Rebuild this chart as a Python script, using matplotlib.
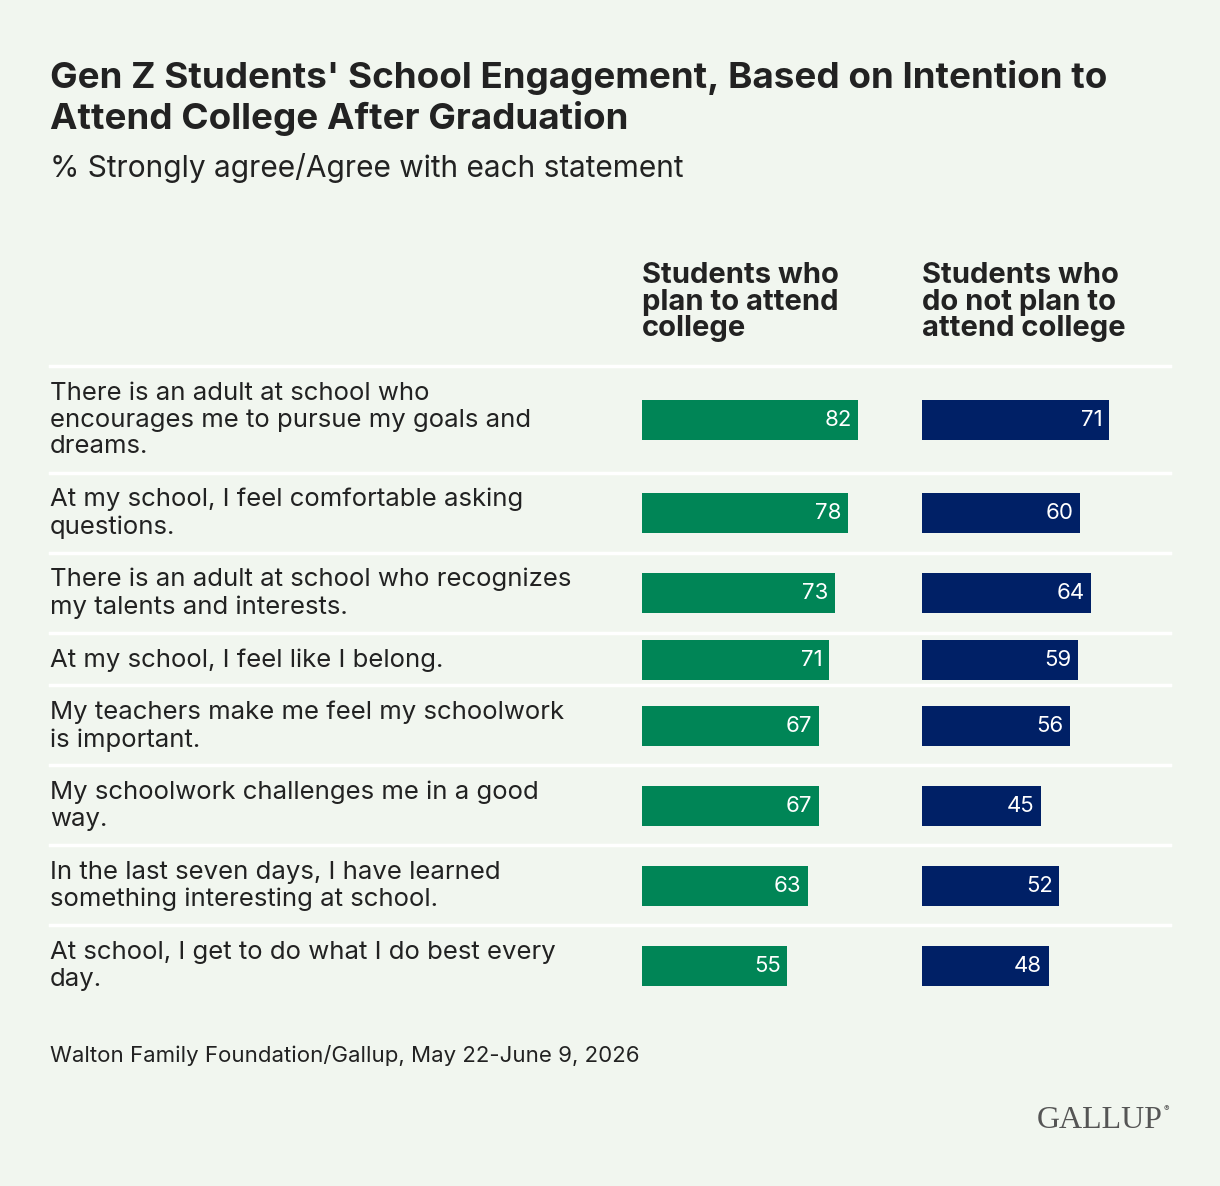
import matplotlib.pyplot as plt
from matplotlib.lines import Line2D

statements = [
    "There is an adult at school who\nencourages me to pursue my goals and\ndreams.",
    "At my school, I feel comfortable asking\nquestions.",
    "There is an adult at school who recognizes\nmy talents and interests.",
    "At my school, I feel like I belong.",
    "My teachers make me feel my schoolwork\nis important.",
    "My schoolwork challenges me in a good\nway.",
    "In the last seven days, I have learned\nsomething interesting at school.",
    "At school, I get to do what I do best every\nday.",
]
plan_college = [82, 78, 73, 71, 67, 67, 63, 55]
no_college = [71, 60, 64, 59, 56, 45, 52, 48]
headers = ["Students who\nplan to attend\ncollege", "Students who\ndo not plan to\nattend college"]

W, H = 1220, 1186
BG = "#f1f6ef"
GREEN = "#008556"
NAVY = "#002066"
TXT = "#222222"
row_y = [420, 513, 593, 660, 726, 806, 886, 966]
seps = [366, 473, 553, 633, 685, 765, 845, 925]
plt.rcParams["font.family"] = ["Inter", "DejaVu Sans"]

fig = plt.figure(figsize=(W / 100, H / 100), dpi=100, facecolor=BG)
bg = fig.add_axes([0, 0, 1, 1])
bg.set_xlim(0, W)
bg.set_ylim(H, 0)
bg.axis("off")

bg.text(50, 98, "Gen Z Students' School Engagement, Based on Intention to\nAttend College After Graduation",
        fontsize=26.5, fontweight="bold", color=TXT, va="center", linespacing=1.2)
bg.text(50, 168, "% Strongly agree/Agree with each statement", fontsize=21.5, color=TXT, va="center")
bg.text(642, 302, headers[0], fontsize=21, fontweight="bold", color=TXT, va="center", linespacing=0.98)
bg.text(922, 302, headers[1], fontsize=21, fontweight="bold", color=TXT, va="center", linespacing=0.98)
for y in seps:
    bg.add_line(Line2D([50, 1170], [y, y], color="white", lw=2.5))
for s, y in zip(statements, row_y):
    bg.text(50, y, s, fontsize=18.5, color=TXT, va="center", linespacing=1.22)
bg.text(50, 1055, "Walton Family Foundation/Gallup, May 22-June 9, 2026", fontsize=16, color=TXT, va="center")
bg.text(1163, 1120, "GALLUP", fontsize=23, family="Liberation Serif", color="#555555", ha="right", va="center")
bg.text(1164, 1109, "®", fontsize=6, color="#555555", ha="left", va="center")

for x0, vals, col in [(642, plan_college, GREEN), (922, no_college, NAVY)]:
    ax = fig.add_axes([x0 / W, 0, 264 / W, 1])
    ax.set_xlim(0, 100)
    ax.set_ylim(H, 0)
    ax.axis("off")
    ax.barh(row_y, vals, height=40, color=col)
    for v, y in zip(vals, row_y):
        ax.text(v - 2.5, y, str(v), color="white", fontsize=16, ha="right", va="center")

fig.savefig("out.png", dpi=100, facecolor=BG)
